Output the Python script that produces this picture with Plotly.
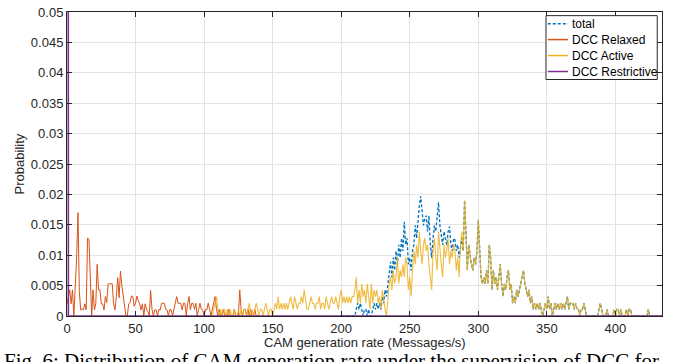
import plotly.graph_objects as go

# CAM generation rate bins (messages/s) and per-state probabilities
relaxed_start = 0
relaxed_prob = [
    0.002, 0.0032, 0.0043, 0.002, 0.0043, 0, 0.004, 0.0095, 0.017, 0.004,
    0.001, 0.0012, 0.001, 0.002, 0.001, 0.0128, 0.0126, 0.004, 0, 0.0043,
    0.001, 0.002, 0.0085, 0.0043, 0.0043, 0.002, 0.002, 0.001, 0.0032, 0.0022,
    0.0053, 0.0053, 0.0053, 0.0053, 0.002, 0.001, 0.0032, 0.0063, 0.003, 0.0074,
    0.005, 0.003, 0.001, 0, 0, 0.002, 0.0022, 0.0033, 0.0032, 0.0016,
    0.0021, 0.0033, 0.0025, 0.002, 0.001, 0.002, 0, 0.002, 0.0011, 0.0007,
    0, 0.0042, 0.0011, 0, 0.001, 0.001, 0, 0.0011, 0.001, 0.0021,
    0.0021, 0.0021, 0.0011, 0.001, 0, 0.0011, 0.001, 0, 0.0011, 0.0021,
    0.0032, 0.0021, 0.0021, 0.0021, 0.001, 0.0021, 0.0021, 0, 0.0021, 0.0032,
    0.001, 0.0021, 0.0021, 0.0011, 0.0021, 0, 0.0011, 0.0021, 0.0011, 0.001,
    0, 0.0011, 0.001, 0.0021, 0.0011, 0, 0.0011, 0.0021, 0.0032, 0.0011,
    0, 0.0011, 0, 0, 0.0011, 0, 0, 0, 0.0011, 0,
    0, 0, 0.0011, 0, 0, 0, 0.0043, 0.0011, 0, 0.0011,
    0.0011, 0, 0.0011, 0, 0.0011, 0, 0, 0.0011, 0, 0,
    0,
]

active_start = 100
active_prob = [
    0, 0, 0, 0, 0, 0, 0, 0.0011, 0.0021, 0.0032,
    0.0011, 0, 0.0011, 0, 0.0011, 0.0011, 0, 0.0011, 0, 0.0011,
    0, 0, 0.0011, 0, 0, 0.0011, 0, 0.0011, 0, 0.0011,
    0.0011, 0, 0.0011, 0.0021, 0, 0.0011, 0, 0.0011, 0.0021, 0.0011,
    0, 0.0011, 0.0011, 0, 0.0011, 0.0021, 0.0011, 0, 0.0011, 0.0011,
    0, 0.0011, 0.0021, 0.0011, 0.0032, 0.0011, 0.0021, 0.0011, 0.0021, 0.0011,
    0.0021, 0.0011, 0.0021, 0.0032, 0.0021, 0.0011, 0.0032, 0.0021, 0.0011, 0.0021,
    0.0021, 0.0032, 0.0021, 0.0043, 0.0021, 0.0011, 0.0011, 0.0021, 0.0032, 0.0021,
    0.0021, 0.0011, 0.0021, 0.0021, 0.0032, 0.0011, 0.0021, 0.0021, 0.0011, 0.0032,
    0.0021, 0.0011, 0.0021, 0.0032, 0.0021, 0.0021, 0.0032, 0.0021, 0.0011, 0.0032,
    0.0043, 0.0021, 0.0032, 0.0021, 0.0032, 0.0021, 0.0032, 0.0021, 0.0032, 0.0032,
    0.0043, 0.0064, 0.0021, 0.0043, 0.0021, 0.0053, 0.0032, 0.0043, 0.0021, 0.0053,
    0.0032, 0.0011, 0.0053, 0.0021, 0.0043, 0.0032, 0.0043, 0.0021, 0.0032, 0.0011,
    0.0043, 0.0021, 0.0011, 0, 0.0032, 0.0053, 0.0064, 0.0043, 0.0075, 0.0053,
    0.0064, 0.0096, 0.0053, 0.0075, 0.0064, 0.0085, 0.0064, 0.0096, 0.0085, 0.0043,
    0.0064, 0.0032, 0.0075, 0.0107, 0.0085, 0.0117, 0.0096, 0.0139, 0.0107, 0.0085,
    0.0117, 0.0128, 0.0107, 0.0117, 0.0085, 0.0064, 0.0043, 0.0107, 0.0128, 0.0096,
    0.0075, 0.0139, 0.0107, 0.0085, 0.0064, 0.0117, 0.0096, 0.0107, 0.0128, 0.0085,
    0.0107, 0.0096, 0.0117, 0.0107, 0.0075, 0.0096, 0.0064, 0.0117, 0.0139, 0.0107,
    0.0190, 0.0139, 0.0075, 0.0117, 0.0096, 0.0085, 0.0075, 0.0096, 0.0085, 0.0107,
    0.0158, 0.0107, 0.0064, 0.0053, 0.0064, 0.0053, 0.0075, 0.0053, 0.0117, 0.0096,
    0.0043, 0.0075, 0.0053, 0.0064, 0.0043, 0.0064, 0.0085, 0.0053, 0.0032, 0.0053,
    0.0043, 0.0064, 0.0075, 0.0043, 0.0053, 0.0021, 0.0032, 0.0021, 0.0043, 0.0032,
    0.0043, 0.0053, 0.0064, 0.0075, 0.0053, 0.0043, 0.0032, 0.0043, 0.0021, 0.0032,
    0.0011, 0.0021, 0.0011, 0.0021, 0.0011, 0.0021, 0.0011, 0, 0.0011, 0.0021,
    0.0011, 0.0032, 0.0011, 0.0021, 0, 0.0011, 0.0021, 0.0011, 0.0021, 0.0011,
    0.0021, 0.0011, 0.0021, 0.0011, 0.0021, 0.0032, 0.0011, 0.0021, 0.0021, 0.0021,
    0.0011, 0.0021, 0.0011, 0.0011, 0, 0.0011, 0.0011, 0.0021, 0.0011, 0,
    0, 0, 0, 0, 0, 0, 0, 0, 0.0011, 0.0021,
    0.0011, 0, 0, 0, 0.0011, 0, 0, 0, 0, 0.0011,
    0, 0.0011, 0.0011, 0, 0.0011, 0, 0, 0, 0.0011, 0,
    0.0011, 0.0011, 0, 0, 0, 0, 0, 0, 0, 0,
    0, 0, 0, 0, 0.0011, 0, 0, 0, 0, 0,
    0, 0, 0, 0, 0,
]

# overall distribution; above 290 msg/s it coincides with DCC Active
total_start = 200
total_low = [
    0, 0, 0, 0, 0, 0, 0, 0, 0, 0,
    0, 0.0011, 0.0021, 0.0011, 0.0021, 0.0011, 0, 0.0011, 0.0011, 0,
    0.0011, 0, 0, 0.0011, 0.0021, 0.0011, 0.0021, 0.0011, 0.0021, 0.0011,
    0.0032, 0.0021, 0.0043, 0.0032, 0.0053, 0.0075, 0.0089, 0.0064, 0.0096, 0.0075,
    0.0107, 0.0085, 0.0117, 0.0096, 0.0128, 0.0107, 0.0155, 0.0117, 0.0128, 0.0085,
    0.0096, 0.0075, 0.0107, 0.0117, 0.0149, 0.0128, 0.0160, 0.0181, 0.0197, 0.0170,
    0.0149, 0.0160, 0.0165, 0.0139, 0.0165, 0.0117, 0.0096, 0.0128, 0.0149, 0.0139,
    0.0160, 0.0187, 0.0149, 0.0128, 0.0117, 0.0139, 0.0128, 0.0117, 0.0139, 0.0147,
    0.0117, 0.0107, 0.0128, 0.0125, 0.0107, 0.0117, 0.0096, 0.0117, 0.0128, 0.0107,
]
total_split = 290

restrictive_rate = [0, 1, 434]
restrictive_prob = [0.98, 0, 0]

x_ticks = [0, 50, 100, 150, 200, 250, 300, 350, 400]
y_ticks = [0, 0.005, 0.01, 0.015, 0.02, 0.025, 0.03, 0.035, 0.04, 0.045, 0.05]
y_tick_text = ["0", "0.005", "0.01", "0.015", "0.02", "0.025", "0.03",
               "0.035", "0.04", "0.045", "0.05"]

relaxed_rate = list(range(relaxed_start, relaxed_start + len(relaxed_prob)))
active_rate = list(range(active_start, active_start + len(active_prob)))
total_prob = total_low + active_prob[total_split - active_start:]
total_rate = list(range(total_start, total_start + len(total_prob)))

C_TOTAL = "#0072BD"
C_RELAXED = "#D95319"
C_ACTIVE = "#EDB120"
C_RESTRICT = "#7E2F8E"
INK = "#262626"
SANS = "Liberation Sans, Arial"

fig = go.Figure()
fig.add_trace(go.Scatter(x=total_rate, y=total_prob, mode="lines", name="total",
                         line=dict(color=C_TOTAL, width=1.3, dash="3px,2px")))
fig.add_trace(go.Scatter(x=relaxed_rate, y=relaxed_prob, mode="lines", name="DCC Relaxed",
                         line=dict(color=C_RELAXED, width=1)))
fig.add_trace(go.Scatter(x=active_rate, y=active_prob, mode="lines", name="DCC Active",
                         opacity=0.85, line=dict(color=C_ACTIVE, width=1.1)))
fig.add_trace(go.Scatter(x=restrictive_rate, y=restrictive_prob, mode="lines",
                         name="DCC Restrictive", line=dict(color=C_RESTRICT, width=1.6)))

axis_common = dict(
    showline=True, linecolor=INK, linewidth=1, mirror="ticks",
    ticks="inside", ticklen=5, tickcolor=INK, tickwidth=1,
    showgrid=True, gridcolor="#E3E3E3", gridwidth=1, zeroline=False,
    automargin=False,
    tickfont=dict(family=SANS, size=13, color=INK),
)

fig.update_layout(
    width=674, height=362,
    margin=dict(l=67, r=12, t=12, b=46),
    paper_bgcolor="white", plot_bgcolor="white",
    showlegend=False,
    xaxis=dict(range=[0, 434], tickvals=x_ticks, **axis_common),
    yaxis=dict(range=[0, 0.05], tickvals=y_ticks, ticktext=y_tick_text, **axis_common),
)

# axis titles
fig.add_annotation(xref="paper", yref="paper", x=0.5, y=-0.088, xanchor="center",
                   yanchor="middle", text="CAM generation rate (Messages/s)", showarrow=False,
                   borderpad=0, font=dict(family=SANS, size=13, color=INK))
fig.add_annotation(xref="paper", yref="paper", x=-0.08, y=0.5, xanchor="center",
                   yanchor="middle", text="Probability", textangle=-90, showarrow=False,
                   font=dict(family=SANS, size=13, color=INK))

# legend box drawn in paper coordinates
legend_items = [("total", C_TOTAL, "3px,2px"), ("DCC Relaxed", C_RELAXED, "solid"),
                ("DCC Active", C_ACTIVE, "solid"), ("DCC Restrictive", C_RESTRICT, "solid")]
lx0, lx1, ly0, ly1 = 0.805, 0.992, 0.778, 0.988
fig.add_shape(type="rect", xref="paper", yref="paper", x0=lx0, x1=lx1, y0=ly0, y1=ly1,
              line=dict(color=INK, width=1), fillcolor="white", layer="above")
row_h = (ly1 - ly0) / 4
for i, (label, color, dash) in enumerate(legend_items):
    yc = ly1 - row_h * (i + 0.5)
    fig.add_shape(type="line", xref="paper", yref="paper", x0=lx0 + 0.003, x1=lx0 + 0.037,
                  y0=yc, y1=yc, line=dict(color=color, width=1.5, dash=dash), layer="above")
    fig.add_annotation(xref="paper", yref="paper", x=lx0 + 0.040, y=yc, text=label,
                       showarrow=False, xanchor="left", yanchor="middle",
                       font=dict(family=SANS, size=12, color="black"))

# figure caption beneath the axes
fig.add_annotation(xref="paper", yref="paper", x=-0.108, y=-0.104, xanchor="left", yanchor="top",
                   text="Fig. 6: Distribution of CAM generation rate under the supervision of DCC for",
                   showarrow=False, borderpad=0,
                   font=dict(family="Liberation Serif, Times New Roman", size=21, color="black"))

fig.write_html("out.html")
